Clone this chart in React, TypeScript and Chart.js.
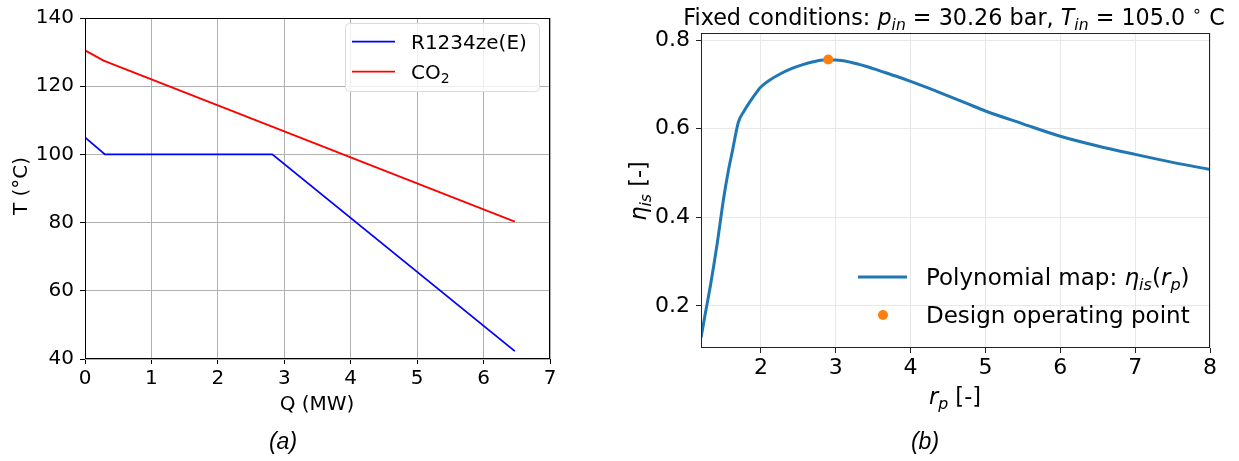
import React, { useEffect, useRef } from "react";
import { Chart, registerables } from "chart.js";

Chart.register(...registerables);

// ---------- data: panel (a) ----------
const Q_R1234ZE = [0, 0.3, 2.82, 6.47];
const T_R1234ZE = [105, 100, 100, 42.3];
const Q_CO2 = [0, 0.28, 6.47];
const T_CO2 = [130.5, 127.5, 80.3];
const Q_TICKS = [0, 1, 2, 3, 4, 5, 6, 7];
const T_TICKS = [40, 60, 80, 100, 120, 140];

// ---------- data: panel (b) ----------
const RP = [1.2, 1.26, 1.33, 1.42, 1.5, 1.56, 1.62, 1.7, 1.78, 1.85, 1.92, 2.0, 2.12, 2.25, 2.4, 2.55, 2.7, 2.85, 3.0, 3.2, 3.4, 3.6, 3.8, 4.0, 4.25, 4.5, 4.75, 5.0, 5.5, 6.0, 6.5, 7.0, 7.5, 8.0];
const ETA = [0.128, 0.185, 0.25, 0.345, 0.44, 0.5, 0.55, 0.615, 0.641, 0.66, 0.677, 0.694, 0.71, 0.723, 0.735, 0.744, 0.751, 0.755, 0.755, 0.75, 0.741, 0.73, 0.719, 0.707, 0.691, 0.674, 0.657, 0.64, 0.611, 0.583, 0.561, 0.542, 0.524, 0.508];
const RP_DESIGN = [2.9];
const ETA_DESIGN = [0.756];
const RP_TICKS = [2, 3, 4, 5, 6, 7, 8];
const ETA_TICKS = [0.2, 0.4, 0.6, 0.8];

const FONT = "'DejaVu Sans', sans-serif";
const CAP_FONT = "'Liberation Sans', Arial, sans-serif";

type Seg = { t: string; it?: boolean; sub?: boolean; sup?: boolean };

function segFont(s: Seg, size: number, family: string) {
  const sz = s.sub || s.sup ? size * 0.7 : size;
  return `${s.it ? "italic " : ""}${sz}px ${family}`;
}

function drawRich(
  ctx: CanvasRenderingContext2D,
  segs: Seg[],
  x: number,
  y: number,
  size: number,
  align: "left" | "center" | "right",
  family: string = FONT
) {
  let w = 0;
  for (const s of segs) {
    ctx.font = segFont(s, size, family);
    w += ctx.measureText(s.t).width;
  }
  let cx = align === "center" ? x - w / 2 : align === "right" ? x - w : x;
  ctx.textAlign = "left";
  ctx.textBaseline = "alphabetic";
  for (const s of segs) {
    ctx.font = segFont(s, size, family);
    const dy = s.sub ? size * 0.22 : s.sup ? -size * 0.42 : 0;
    ctx.fillText(s.t, cx, y + dy);
    cx += ctx.measureText(s.t).width;
  }
}

function framePlugin(color: string) {
  return {
    id: "frame",
    afterDraw(chart: any) {
      const { ctx, chartArea: a } = chart;
      ctx.save();
      ctx.strokeStyle = color;
      ctx.lineWidth = 1;
      const l = Math.round(a.left) + 0.5;
      const t = Math.round(a.top) + 0.5;
      const r = Math.round(a.right) - 0.5;
      const b = Math.round(a.bottom) - 0.5;
      ctx.strokeRect(l, t, r - l, b - t);
      ctx.restore();
    },
  };
}

const LEGEND_A: Seg[][] = [[{ t: "R1234ze(E)" }], [{ t: "CO" }, { t: "2", sub: true }]];

const textPluginA = {
  id: "textA",
  afterDraw(chart: any) {
    const ctx: CanvasRenderingContext2D = chart.ctx;
    ctx.save();
    ctx.fillStyle = "#000";
    drawRich(ctx, [{ t: "Q (MW)" }], 317, 410, 20, "center");
    ctx.save();
    ctx.translate(20, 186);
    ctx.rotate(-Math.PI / 2);
    drawRich(ctx, [{ t: "T (°C)" }], 0, 7, 20, "center");
    ctx.restore();
    drawRich(ctx, [{ t: "(a)", it: true }], 283, 449, 23, "center", CAP_FONT);
    // legend
    const bx = 345, by = 23, bw = 194, bh = 68;
    ctx.beginPath();
    (ctx as any).roundRect(bx + 0.5, by + 0.5, bw, bh, 4);
    ctx.fillStyle = "rgba(255,255,255,0.8)";
    ctx.fill();
    ctx.strokeStyle = "#dcdcdc";
    ctx.lineWidth = 1;
    ctx.stroke();
    const ys = [41.7, 71.7];
    chart.data.datasets.forEach((ds: any, i: number) => {
      ctx.strokeStyle = ds.borderColor;
      ctx.lineWidth = ds.borderWidth;
      ctx.beginPath();
      ctx.moveTo(352, ys[i]);
      ctx.lineTo(395, ys[i]);
      ctx.stroke();
      ctx.fillStyle = "#000";
      drawRich(ctx, LEGEND_A[i], 411, ys[i] + 7.3, 20, "left");
    });
    ctx.restore();
  },
};

const TITLE_B: Seg[] = [
  { t: "Fixed conditions: " },
  { t: "p", it: true },
  { t: "in", it: true, sub: true },
  { t: " = 30.26 bar, " },
  { t: "T", it: true },
  { t: "in", it: true, sub: true },
  { t: " = 105.0 " },
  { t: "∘", sup: true },
  { t: " C" },
];
const LEGEND_B: Seg[][] = [
  [{ t: "Polynomial map: " }, { t: "η", it: true }, { t: "is", it: true, sub: true }, { t: "(" }, { t: "r", it: true }, { t: "p", it: true, sub: true }, { t: ")" }],
  [{ t: "Design operating point" }],
];

const textPluginB = {
  id: "textB",
  afterDraw(chart: any) {
    const ctx: CanvasRenderingContext2D = chart.ctx;
    ctx.save();
    ctx.fillStyle = "#000";
    const ox = 620;
    drawRich(ctx, TITLE_B, 954 - ox, 25, 22.3, "center");
    drawRich(ctx, [{ t: "r", it: true }, { t: "p", it: true, sub: true }, { t: " [-]" }], 955 - ox, 404, 22.5, "center");
    ctx.save();
    ctx.translate(638 - ox, 191);
    ctx.rotate(-Math.PI / 2);
    drawRich(ctx, [{ t: "η", it: true }, { t: "is", it: true, sub: true }, { t: " [-]" }], 0, 8, 22.5, "center");
    ctx.restore();
    drawRich(ctx, [{ t: "(b)", it: true }], 925 - ox, 449, 23, "center", CAP_FONT);
    // legend
    const line = chart.data.datasets[1];
    const pt = chart.data.datasets[0];
    ctx.strokeStyle = line.borderColor;
    ctx.lineWidth = line.borderWidth;
    ctx.beginPath();
    ctx.moveTo(858 - ox, 277);
    ctx.lineTo(907 - ox, 277);
    ctx.stroke();
    ctx.fillStyle = pt.backgroundColor;
    ctx.beginPath();
    ctx.arc(883 - ox, 315, pt.pointRadius, 0, Math.PI * 2);
    ctx.fill();
    ctx.fillStyle = "#000";
    drawRich(ctx, LEGEND_B[0], 926 - ox, 285, 23, "left");
    drawRich(ctx, LEGEND_B[1], 926 - ox, 323, 23, "left");
    ctx.restore();
  },
};

function toXY(xs: number[], ys: number[]) {
  return xs.map((x, i) => ({ x, y: ys[i] }));
}

export default function App() {
  const refA = useRef<HTMLCanvasElement>(null);
  const refB = useRef<HTMLCanvasElement>(null);

  useEffect(() => {
    const chartA = new Chart(refA.current!, {
      type: "scatter",
      data: {
        datasets: [
          { label: "R1234ze(E)", data: toXY(Q_R1234ZE, T_R1234ZE), showLine: true, borderColor: "#0000ff", backgroundColor: "#0000ff", borderWidth: 1.8, pointRadius: 0 },
          { label: "CO2", data: toXY(Q_CO2, T_CO2), showLine: true, borderColor: "#ff0000", backgroundColor: "#ff0000", borderWidth: 1.8, pointRadius: 0 },
        ],
      } as any,
      options: {
        animation: false,
        responsive: false,
        devicePixelRatio: 1,
        layout: { padding: { left: 0, right: 70, top: 13, bottom: 0 } },
        plugins: { legend: { display: false }, tooltip: { enabled: false } },
        scales: {
          x: {
            type: "linear",
            min: 0,
            max: 7,
            afterBuildTicks: (s: any) => { s.ticks = Q_TICKS.map((v) => ({ value: v })); },
            afterFit: (s: any) => { s.height = 102; },
            grid: { color: "#b0b0b0", tickColor: "#000", tickLength: 5, lineWidth: 1 },
            border: { display: false },
            ticks: { font: { family: FONT, size: 20 }, color: "#000", padding: 3, maxRotation: 0, autoSkip: false },
          },
          y: {
            type: "linear",
            min: 40,
            max: 140,
            afterBuildTicks: (s: any) => { s.ticks = T_TICKS.map((v) => ({ value: v })); },
            afterFit: (s: any) => { s.width = 85; },
            grid: { color: "#b0b0b0", tickColor: "#000", tickLength: 5, lineWidth: 1 },
            border: { display: false },
            ticks: { font: { family: FONT, size: 20 }, color: "#000", padding: 6, autoSkip: false },
          },
        },
      } as any,
      plugins: [framePlugin("#000"), textPluginA],
    });

    const chartB = new Chart(refB.current!, {
      type: "scatter",
      data: {
        datasets: [
          { label: "Design operating point", data: toXY(RP_DESIGN, ETA_DESIGN), showLine: false, backgroundColor: "#ff7f0e", borderColor: "#ff7f0e", pointRadius: 5, borderWidth: 0 },
          { label: "Polynomial map", data: toXY(RP, ETA), showLine: true, cubicInterpolationMode: "monotone", borderColor: "#1f77b4", backgroundColor: "#1f77b4", borderWidth: 3, pointRadius: 0 },
        ],
      } as any,
      options: {
        animation: false,
        responsive: false,
        devicePixelRatio: 1,
        layout: { padding: { left: 0, right: 29, top: 33, bottom: 0 } },
        plugins: { legend: { display: false }, tooltip: { enabled: false } },
        scales: {
          x: {
            type: "linear",
            min: 1.2,
            max: 8,
            afterBuildTicks: (s: any) => { s.ticks = RP_TICKS.map((v) => ({ value: v })); },
            afterFit: (s: any) => { s.height = 113; },
            grid: { color: "#e8e8e8", tickColor: "#222", tickLength: 5, lineWidth: 1 },
            border: { display: false },
            ticks: { font: { family: FONT, size: 22 }, color: "#000", padding: 2, maxRotation: 0, autoSkip: false },
          },
          y: {
            type: "linear",
            min: 0.105,
            max: 0.816,
            afterBuildTicks: (s: any) => { s.ticks = ETA_TICKS.map((v) => ({ value: v })); },
            afterFit: (s: any) => { s.width = 81; },
            grid: { color: "#e8e8e8", tickColor: "#222", tickLength: 5, lineWidth: 1 },
            border: { display: false },
            ticks: { font: { family: FONT, size: 22 }, color: "#000", padding: 6, autoSkip: false, callback: (v: number) => v.toFixed(1) },
          },
        },
      } as any,
      plugins: [framePlugin("#222"), textPluginB],
    });

    return () => {
      chartA.destroy();
      chartB.destroy();
    };
  }, []);

  return (
    <div style={{ position: "absolute", left: 0, top: 0, width: 1239, height: 461, background: "#fff" }}>
      <canvas ref={refA} width={620} height={461} style={{ position: "absolute", left: 0, top: 0, width: 620, height: 461 }} />
      <canvas ref={refB} width={619} height={461} style={{ position: "absolute", left: 620, top: 0, width: 619, height: 461 }} />
    </div>
  );
}
